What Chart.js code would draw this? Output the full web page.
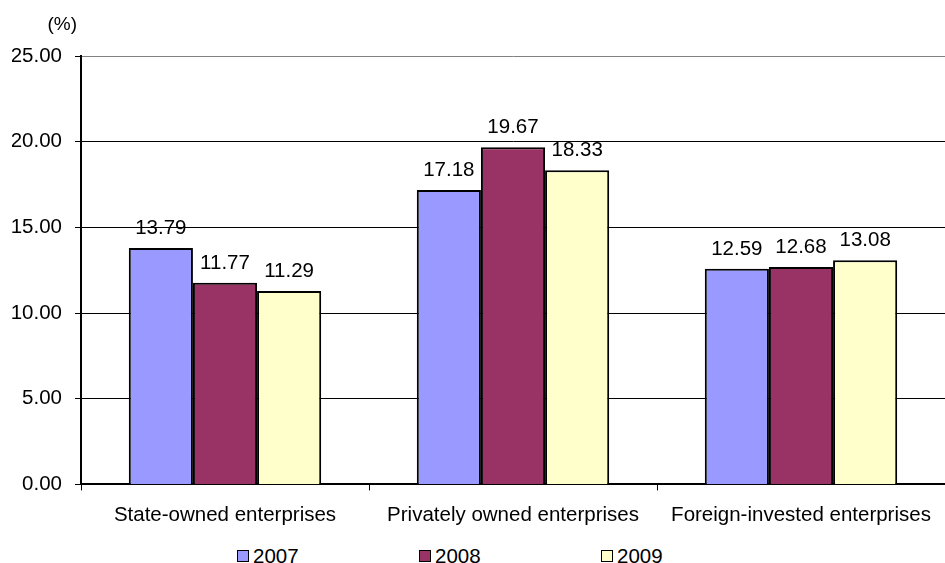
<!DOCTYPE html>
<html>
<head>
<meta charset="utf-8">
<script src="https://cdn.jsdelivr.net/npm/chart.js@4.4.1/dist/chart.umd.min.js"></script>
<style>
    html, body { margin: 0; padding: 0; background: #fff; }
    body { width: 945px; height: 563px; overflow: hidden; font-family: "Liberation Sans", Arial, sans-serif; }
    #wrap { position: relative; width: 945px; height: 541px; }
    #legend { position: relative; height: 22px; padding-top: 4px; padding-left: 237px; display: flex; align-items: center; }
    .item { width: 182px; display: flex; align-items: center; font-size: 20.5px; color: #000; }
    .box { width: 10px; height: 10px; border: 1px solid #000; margin-right: 4px; }
</style>
</head>
<body>
<div id="wrap"><canvas id="rateChart"></canvas></div>
<div id="legend"></div>
<script>
// Categories and yearly values (%)
const categories = ['State-owned enterprises', 'Privately owned enterprises', 'Foreign-invested enterprises'];
const years = ['2007', '2008', '2009'];
const values2007 = [13.79, 17.18, 12.59];
const values2008 = [11.77, 19.67, 12.68];
const values2009 = [11.29, 18.33, 13.08];
const yTicks = [0, 5, 10, 15, 20, 25];

const colors = ['#9999FF', '#993366', '#FFFFCC'];
const fontFamily = '"Liberation Sans", Arial, sans-serif';
const fontSize = 20.5;

// value labels above each bar
const barLabels = {
    id: 'barLabels',
    afterDatasetsDraw(chart) {
        const ctx = chart.ctx;
        ctx.save();
        ctx.font = fontSize + 'px ' + fontFamily;
        ctx.fillStyle = '#000';
        ctx.textAlign = 'center';
        ctx.textBaseline = 'alphabetic';
        chart.data.datasets.forEach((ds, i) => {
            chart.getDatasetMeta(i).data.forEach((bar, j) => {
                ctx.fillText(ds.data[j].toFixed(2), bar.x, bar.y - 14);
            });
        });
        ctx.restore();
    }
};

// "(%)" unit above the y axis
const unitLabel = {
    id: 'unitLabel',
    afterDraw(chart) {
        const ctx = chart.ctx;
        ctx.save();
        ctx.font = '19px ' + fontFamily;
        ctx.fillStyle = '#000';
        ctx.textAlign = 'right';
        ctx.textBaseline = 'middle';
        ctx.fillText('(%)', chart.chartArea.left - 4, chart.chartArea.top - 31);
        ctx.restore();
    }
};

function createChart() {
    const ctx = document.getElementById('rateChart').getContext('2d');
    const chart = new Chart(ctx, {
        type: 'bar',
        data: {
            labels: categories,
            datasets: [values2007, values2008, values2009].map((vals, i) => ({
                label: years[i],
                data: vals,
                backgroundColor: colors[i],
                borderColor: '#000',
                borderWidth: 2,
                categoryPercentage: 0.668,
                barPercentage: 1.0,
            })),
        },
        options: {
            responsive: true,
            maintainAspectRatio: false,
            animation: false,
            layout: { padding: { top: 56, left: 12, right: 0, bottom: 0 } },
            plugins: {
                legend: { display: false },
                tooltip: { enabled: false },
            },
            scales: {
                x: {
                    grid: {
                        offset: true,
                        drawOnChartArea: false,
                        color: '#000',
                        tickLength: 6,
                    },
                    border: { color: '#000', width: 2 },
                    ticks: {
                        color: '#000',
                        padding: 13,
                        maxRotation: 0,
                        font: { family: fontFamily, size: fontSize },
                    },
                },
                y: {
                    min: 0,
                    max: 25,
                    afterBuildTicks: (axis) => {
                        axis.ticks = yTicks.map((v) => ({ value: v }));
                    },
                    afterFit: (axis) => {
                        axis.width = 69;
                    },
                    grid: {
                        color: (c) => (c.tick && c.tick.value === 25 ? '#808080' : '#000'),
                        tickColor: '#000',
                        tickLength: 6,
                        lineWidth: 1,
                    },
                    border: { color: '#000', width: 2 },
                    ticks: {
                        color: '#000',
                        padding: 13,
                        font: { family: fontFamily, size: fontSize },
                        callback: (v) => Number(v).toFixed(2),
                    },
                },
            },
        },
        plugins: [barLabels, unitLabel],
    });

    // legend below the chart
    const legend = document.getElementById('legend');
    chart.data.datasets.forEach((ds) => {
        const item = document.createElement('div');
        item.className = 'item';
        const box = document.createElement('span');
        box.className = 'box';
        box.style.background = ds.backgroundColor;
        item.appendChild(box);
        item.appendChild(document.createTextNode(ds.label));
        legend.appendChild(item);
    });
}

document.addEventListener('DOMContentLoaded', createChart);
</script>
</body>
</html>
